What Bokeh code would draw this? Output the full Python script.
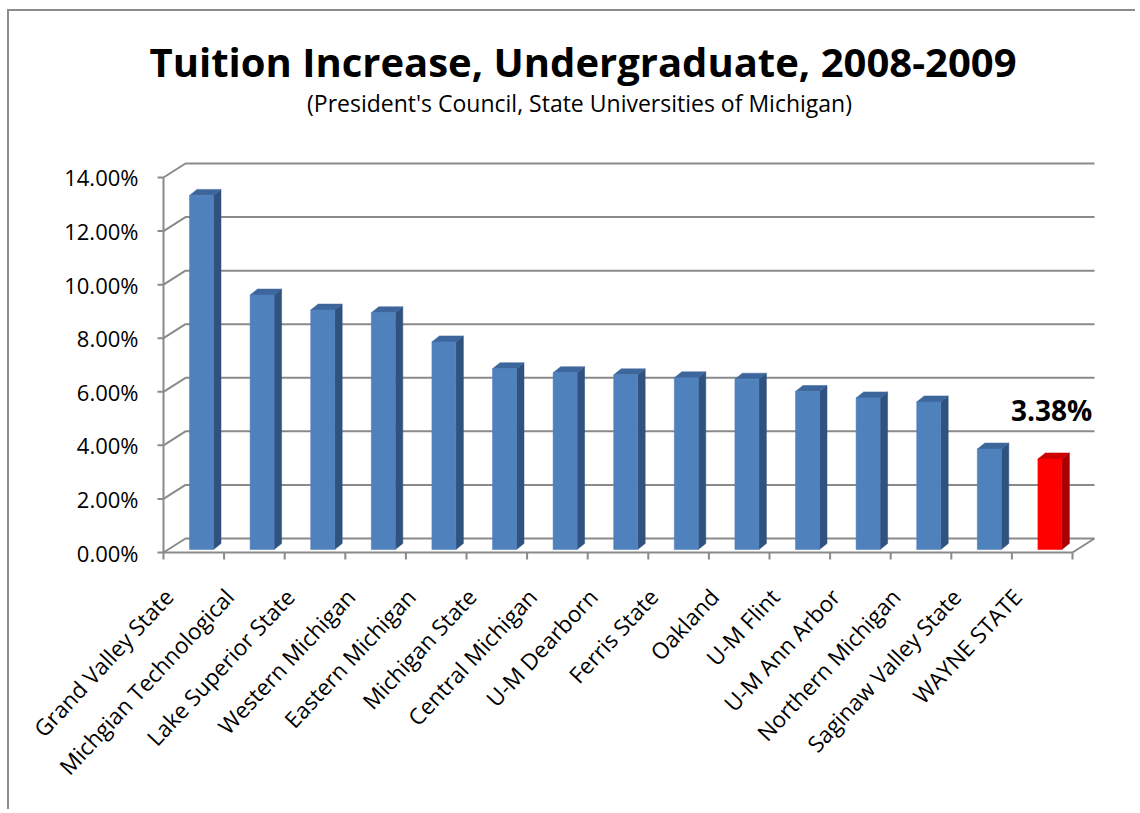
import math
from bokeh.plotting import figure
from bokeh.models import FixedTicker, PrintfTickFormatter, Label, Range1d
from bokeh.embed import file_html
from bokeh.resources import INLINE

# ---------------- data ----------------
categories = ["Grand Valley State", "Michgian Technological", "Lake Superior State",
              "Western Michigan", "Eastern Michigan", "Michigan State", "Central Michigan",
              "U-M Dearborn", "Ferris State", "Oakland", "U-M Flint", "U-M Ann Arbor",
              "Northern Michigan", "Saginaw Valley State", "WAYNE STATE"]
values = [13.22, 9.50, 8.94, 8.84, 7.75, 6.75, 6.60, 6.52, 6.41, 6.36, 5.90, 5.66, 5.51, 3.75, 3.38]
y_ticks = [0, 2, 4, 6, 8, 10, 12, 14]
highlight = "WAYNE STATE"
title_text = "Tuition Increase, Undergraduate, 2008-2009"
subtitle_text = "(President's Council, State Universities of Michigan)"

# ---------------- layout (pixels) ----------------
W, H = 1128, 800
OX, OY = 9, 11             # page position of canvas origin (margin + 2px border)
AXIS_PAGE_X = 163          # front y axis (page)
ZERO_PAGE_Y = 552          # front 0 % (page)
PXX = 60.6                 # px per category
PXY = 26.786               # px per percent
FRAME_LEFT = 134           # canvas
FRAME_RIGHT = 1110
FRAME_TOP = 0
FRAME_BOTTOM = 551
BASELINE_FIX = 0.39        # label baseline compensation (fraction of font size)

def u_of(page_x):
    return (page_x - AXIS_PAGE_X) / PXX

def v_of(page_y):
    return (ZERO_PAGE_Y - page_y) / PXY

ax_canvas = AXIS_PAGE_X - OX
zero_canvas = ZERO_PAGE_Y - OY

x_range = Range1d(-(ax_canvas - FRAME_LEFT) / PXX, (FRAME_RIGHT - ax_canvas) / PXX)
y_range = Range1d(-(FRAME_BOTTOM - zero_canvas) / PXY, (zero_canvas - FRAME_TOP) / PXY)

p = figure(width=W, height=H, x_range=x_range, y_range=y_range,
           output_backend="svg", toolbar_location=None, title=None,
           min_border_left=FRAME_LEFT, min_border_right=W - FRAME_RIGHT,
           min_border_top=FRAME_TOP, min_border_bottom=H - FRAME_BOTTOM)
p.grid.visible = False
p.outline_line_color = None
p.background_fill_color = "white"
p.border_fill_color = "white"
p.styles = {"margin-left": "7px", "margin-top": "9px",
            "border-left": "2px solid #8c8c8c", "border-top": "2px solid #8c8c8c"}

GRID = "#8a8a8a"
FONT = "Open Sans"
n = len(categories)

# 3D offsets
wall_dx = 22 / PXX
wall_dy = 14 / PXY
bar_a = 26 / PXX
bar_w = 24 / PXX
bar_dx = 7.5 / PXX
bar_dy = 6 / PXY
bar_z = 3 / PXY
xtick_len = 7 / PXY
ytick_len = 6 / PXX

# back wall gridlines + side diagonals
gx, gy = [], []
for t in y_ticks:
    gx.append([0, wall_dx, n + wall_dx])
    gy.append([t, t + wall_dy, t + wall_dy])
    # front y-axis tick mark
    gx.append([-ytick_len, 0])
    gy.append([t, t])
# front y axis line
gx.append([0, 0])
gy.append([0, max(y_ticks)])
# floor right edge
gx.append([n, n + wall_dx])
gy.append([0, wall_dy])
# floor front edge (x axis line)
gx.append([0, n])
gy.append([0, 0])
# category tick marks
for i in range(n + 1):
    gx.append([i, i])
    gy.append([0, -xtick_len])
p.multi_line(gx, gy, line_color=GRID, line_width=2)

# bars
front_col, side_col, top_col = [], [], []
for c in categories:
    if c == highlight:
        front_col.append("#FF0000"); side_col.append("#A80000"); top_col.append("#CC0000")
    else:
        front_col.append("#4F81BD"); side_col.append("#30527F"); top_col.append("#3D679C")

left = [i + bar_a for i in range(n)]
right = [l + bar_w for l in left]
bottom = [bar_z] * n
top = [bar_z + v for v in values]

side_xs = [[r, r + bar_dx, r + bar_dx, r] for r in right]
side_ys = [[b, b + bar_dy, t + bar_dy, t] for b, t in zip(bottom, top)]
top_xs = [[l, r, r + bar_dx, l + bar_dx] for l, r in zip(left, right)]
top_ys = [[t, t, t + bar_dy, t + bar_dy] for t in top]

p.patches(side_xs, side_ys, fill_color=side_col, line_color=side_col, line_width=0.5)
p.patches(top_xs, top_ys, fill_color=top_col, line_color=top_col, line_width=0.5)
p.quad(left=left, right=right, bottom=bottom, top=top,
       fill_color=front_col, line_color=front_col, line_width=0.5)

# y axis (tick labels; line and ticks drawn at the front corner above)
ya = p.yaxis[0]
ya.ticker = FixedTicker(ticks=y_ticks)
ya.formatter = PrintfTickFormatter(format="%.2f%%")
ya.axis_line_color = None
ya.major_tick_line_color = None
ya.major_tick_out = 0
ya.major_tick_in = 0
ya.minor_tick_line_color = None
ya.major_label_text_font = FONT
ya.major_label_text_font_size = "22px"
ya.major_label_text_color = "black"
ya.major_label_standoff = 5

# x axis (labels only)
label_shift = 0.41
xticks = [round(i + 0.5 - label_shift, 4) for i in range(n)]
xa = p.xaxis[0]
xa.ticker = FixedTicker(ticks=xticks)
xa.major_label_overrides = {t: c for t, c in zip(xticks, categories)}
xa.major_label_orientation = math.radians(47)
xa.axis_line_color = None
xa.major_tick_line_color = None
xa.minor_tick_line_color = None
xa.major_tick_out = 0
xa.major_tick_in = 0
xa.major_label_text_font = FONT
xa.major_label_text_font_size = "22.5px"
xa.major_label_text_color = "black"
xa.major_label_standoff = 30

# data label on highlighted bar
p.add_layout(Label(x=n + wall_dx * 0.9, y=values[-1] + 1.52 + BASELINE_FIX * 28 / PXY,
                   text=f"{values[-1]:.2f}%", text_align="right", text_baseline="alphabetic",
                   text_font=FONT, text_font_size="28px", text_font_style="bold",
                   text_color="black"))

# title and subtitle
p.add_layout(Label(x=u_of(582.5), y=v_of(77 - BASELINE_FIX * 40), text=title_text,
                   text_align="center", text_baseline="alphabetic",
                   text_font=FONT, text_font_size="40px", text_font_style="bold",
                   text_color="black"))
p.add_layout(Label(x=u_of(579), y=v_of(111 - BASELINE_FIX * 23), text=subtitle_text,
                   text_align="center", text_baseline="alphabetic",
                   text_font=FONT, text_font_size="23px",
                   text_color="black"))

open("out.html", "w").write(file_html(p, INLINE))
